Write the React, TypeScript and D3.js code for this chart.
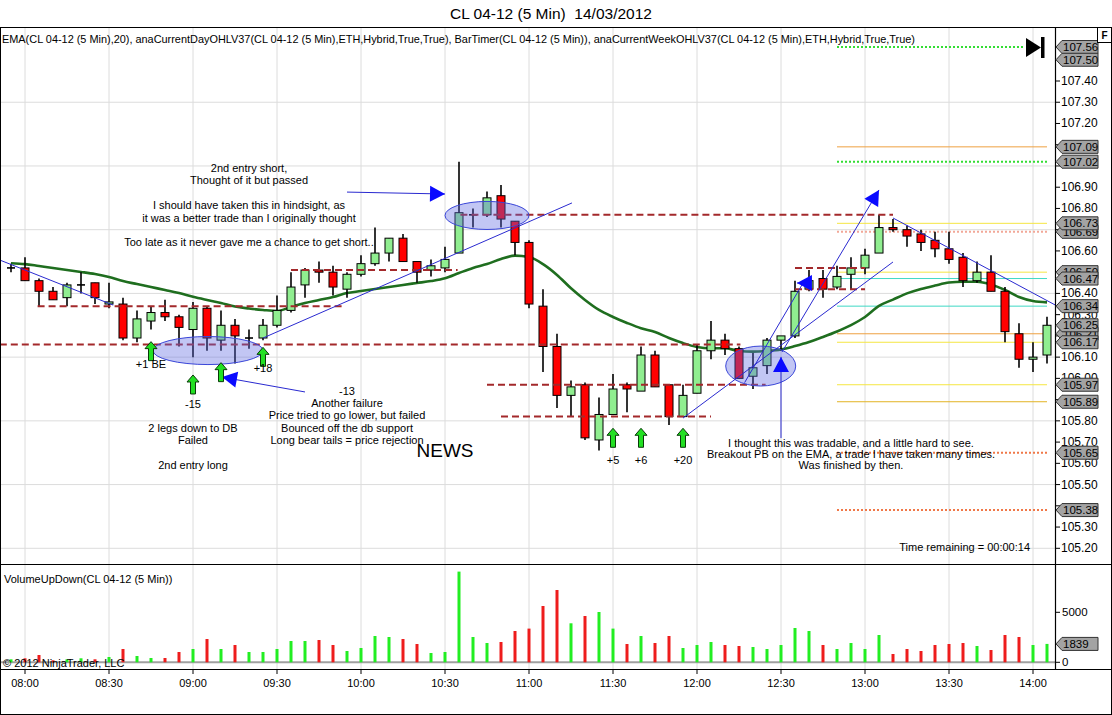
import React from "react";
import * as d3 from "d3";

// ---------- DATA ----------
const opens = [106.52,106.52,106.46,106.41,106.38,106.44,106.45,106.35,106.35,106.19,
106.27,106.31,106.29,106.23,106.33,106.18,106.25,106.19,106.19,106.25,
106.32,106.44,106.51,106.50,106.42,106.49,106.54,106.59,106.66,106.55,
106.51,106.52,106.59,106.77,106.77,106.86,106.74,106.64,106.34,106.15,
105.92,105.97,105.71,105.83,105.97,105.94,106.11,105.97,105.82,105.93,
106.13,106.18,106.14,106.01,106.06,106.18,106.20,106.42,106.47,106.43,
106.49,106.52,106.59,106.71,106.70,106.68,106.65,106.61,106.57,106.46,
106.50,106.41,106.21,106.09,106.11];
const highs = [106.54,106.57,106.47,106.43,106.45,106.50,106.45,106.45,106.38,106.32,
106.34,106.37,106.30,106.36,106.34,106.32,106.28,106.23,106.28,106.39,
106.50,106.52,106.55,106.53,106.50,106.58,106.71,106.66,106.68,106.55,
106.56,106.62,107.02,106.80,106.88,106.91,106.74,106.65,106.42,106.21,
105.99,105.98,105.91,106.02,105.98,106.15,106.13,105.97,105.97,106.16,
106.27,106.21,106.15,106.12,106.19,106.20,106.46,106.51,106.51,106.53,
106.57,106.61,106.77,106.75,106.72,106.70,106.69,106.69,106.59,106.55,
106.58,106.43,106.26,106.17,106.29];
const lows = [106.50,106.46,106.34,106.37,106.34,106.40,106.35,106.33,106.18,106.17,
106.23,106.27,106.15,106.10,106.13,106.13,106.07,106.14,106.18,106.24,
106.31,106.38,106.45,106.39,106.38,106.48,106.53,106.55,106.55,106.45,
106.48,106.50,106.59,106.71,106.76,106.71,106.58,106.33,106.03,105.86,
105.82,105.71,105.66,105.83,105.84,105.94,105.96,105.78,105.82,105.93,
106.09,106.11,106.00,105.95,106.02,106.13,106.19,106.41,106.38,106.42,
106.42,106.49,106.59,106.69,106.62,106.60,106.57,106.54,106.43,106.45,
106.41,106.17,106.05,106.03,106.07];
const closes = [106.52,106.46,106.41,106.37,106.44,106.44,106.38,106.36,106.19,106.28,
106.31,106.29,106.24,106.33,106.19,106.25,106.20,106.19,106.25,106.32,
106.43,106.51,106.50,106.43,106.49,106.54,106.59,106.66,106.55,106.50,
106.53,106.56,106.78,106.77,106.85,106.75,106.64,106.35,106.15,105.92,
105.96,105.72,105.83,105.95,105.95,106.11,105.96,105.82,105.92,106.13,
106.18,106.14,106.00,106.05,106.18,106.20,106.41,106.46,106.42,106.48,
106.52,106.58,106.71,106.70,106.67,106.64,106.61,106.56,106.46,106.50,
106.41,106.22,106.09,106.10,106.25];
const volumes = [300,400,730,200,300,400,300,530,1330,630,
430,430,1030,1330,2330,1330,1730,1030,1030,1330,
2130,2130,2230,1730,1130,1430,2630,2530,2330,1830,
930,1030,9070,2530,1930,2030,3130,3370,5630,7230,
3900,4630,5030,3370,1830,2630,1930,2630,1430,1730,
2030,1730,1630,1530,1330,1730,3430,3130,1730,1330,
1930,1330,2730,830,1330,1130,1730,1830,1930,1630,
1230,2730,2530,1730,1839];
const ema = [106.542,106.538,106.529,106.520,106.510,106.501,106.491,106.477,106.458,106.444,
106.430,106.416,106.402,106.384,106.369,106.355,106.338,106.329,106.322,106.317,
106.336,106.355,106.369,106.383,106.402,106.411,106.421,106.430,106.440,106.449,
106.458,106.471,106.496,106.520,106.538,106.562,106.578,106.571,106.538,106.487,
106.424,106.369,106.322,106.289,106.261,106.236,106.218,106.190,106.166,106.148,
106.142,106.142,106.129,106.126,106.129,106.136,106.152,106.171,106.195,106.221,
106.251,106.289,106.341,106.371,106.400,106.421,106.437,106.451,106.455,106.455,
106.442,106.416,106.383,106.364,106.358];

const timeLabels = ["08:00","08:30","09:00","09:30","10:00","10:30","11:00","11:30","12:00","12:30","13:00","13:30","14:00"];
const timeBars = [1,7,13,19,25,31,37,43,49,55,61,67,73];

// session levels (current day / week OHLC)
const levelPrices = [107.09,107.02,106.73,106.69,106.50,106.47,106.34,106.21,106.17,105.97,105.89,105.65,105.38];
const levelColors = ["#eea040","#33dd33","#f5e642","#f2a898","#f5e642","#3fd9c4","#3fd9c4","#eea040","#f5e642","#f5e642","#e2b424","#f07848","#f07848"];
const levelDotted = [false,true,false,true,false,false,false,false,false,false,false,true,true];
const weekHigh = 107.56;

const flagPrices = [107.56,107.50,107.09,107.02,106.69,106.73,106.50,106.47,106.34,106.21,106.25,106.17,105.97,105.89,105.65,105.38];
const lastVolume = 1839;

// drawn objects (bar index, price)
const dashedPrices = [106.34,106.16,106.51,106.77,105.97,105.82,106.52,106.42];
const dashedFrom = [1.9,-0.8,20,32.1,34,35,56,56];
const dashedTo = [23.9,52.1,31.9,63,53.9,50,61,61];

const trendLines: [number, number][][] = [
  [[-0.8,106.557],[7.3,106.345]],
  [[18,106.19],[40.07,106.826]],
  [[48,105.813],[63,106.548]],
  [[52.4,105.98],[56.7,106.463]],
  [[63,106.755],[74.6,106.345]],
];
const arrowLines: [number, number][][] = [
  [[24,106.877],[31,106.868]],
  [[21,105.936],[15.07,106.006]],
  [[55.07,106.124],[62,106.887]],
  [[55,105.719],[55,106.101]],
  [[57.14,106.449],[56.14,106.449]],
];
const ellipses = [
  [14.07,106.131,3.93,0.066],
  [34,106.767,3,0.066],
  [53.55,106.058,2.5,0.094],
];
const upArrowBars = [10,13,15,18,43,45,48];
const upArrowTips = [106.173,106.016,106.074,106.146,105.765,105.765,105.765];
const tradeLabels = ["+1 BE","-15","+18","+5","+6","+20"];
const tradeLabelBars = [10,13,18,43,45,48];
const tradeLabelPrices = [106.068,105.879,106.049,105.616,105.616,105.616];

const FONT = "'Liberation Sans', Arial, sans-serif";

function arrowHead(tip: [number, number], from: [number, number], len = 14, half = 7) {
  const dx = tip[0] - from[0], dy = tip[1] - from[1];
  const d = Math.hypot(dx, dy) || 1;
  const ux = dx / d, uy = dy / d;
  const bx = tip[0] - ux * len, by = tip[1] - uy * len;
  const nx = -uy, ny = ux;
  return `M${tip[0]},${tip[1]}L${bx + nx * half},${by + ny * half}L${bx - nx * half},${by - ny * half}Z`;
}

export default function App() {
  const x = d3.scaleLinear().domain([0, 74]).range([11, 1047]);
  const y = d3.scaleLinear().domain([105.2, 107.4]).range([548.3, 81]);
  const yv = d3.scaleLinear().domain([0, 5000]).range([662.3, 612.3]);
  const bw = 8;
  const AX = 1055;

  const emaPath = d3.line<number>().x((_, i) => x(i)).y(d => y(d)).curve(d3.curveMonotoneX)(ema) || "";
  const priceTicks = d3.range(0, 23).map(i => +(105.2 + i * 0.1).toFixed(2));
  const gridPrices = d3.range(0, 8).map(i => +(105.2 + i * 0.3).toFixed(2));
  // tick labels that sit fully behind a price flag are not visible in the original
  const visibleTickLabel = (p: number) => flagPrices.every(f => Math.abs(y(f) - y(p)) > 4.5);

  const flag = (cy: number, label: string, key: string) => (
    <g key={key}>
      <path d={`M${AX + 1},${cy}L${AX + 7},${cy - 6.5}L${AX + 43},${cy - 6.5}L${AX + 43},${cy + 6.5}L${AX + 7},${cy + 6.5}Z`} fill="#a3a3a3" stroke="#333" strokeWidth={1} />
      <text x={AX + 8} y={cy} dominantBaseline="central" fontSize={11.5} fill="#000">{label}</text>
    </g>
  );

  const topText = ["2nd entry short,", "Thought of it but passed", "", "I should have taken this in hindsight, as", "it was a better trade than I originally thought", "", "Too late as it never gave me a chance to get short.."];
  const midText = ["-13", "Another failure", "Price tried to go lower, but failed", "Bounced off the db support", "Long bear tails = price rejection"];
  const leftText = ["2 legs down to DB", "Failed", "", "2nd entry long"];
  const rightText = ["I thought this was tradable, and a little hard to see.", "Breakout PB on the EMA, a trade I have taken many times.", "Was finished by then."];

  return (
    <svg width={1112} height={715} style={{ position: "absolute", left: 0, top: 0, background: "#fff" }} fontFamily={FONT}>
      <rect x={0} y={0} width={1112} height={715} fill="#fff" />
      {/* title */}
      <text x={551} y={13} textAnchor="middle" dominantBaseline="central" fontSize={15.5} fill="#000">{"CL 04-12 (5 Min)\u00a0\u00a014/03/2012"}</text>

      {/* grid */}
      {timeBars.map((b, i) => (
        <line key={"vg" + i} x1={x(b)} x2={x(b)} y1={28} y2={669} stroke="#dcdcdc" strokeWidth={1} />
      ))}
      {gridPrices.map((p, i) => (
        <line key={"hg" + i} x1={0} x2={AX} y1={y(p)} y2={y(p)} stroke="#dcdcdc" strokeWidth={1} />
      ))}

      {/* indicator label */}
      <text x={2} y={39} dominantBaseline="central" fontSize={11} textLength={913} lengthAdjust="spacingAndGlyphs">EMA(CL 04-12 (5 Min),20), anaCurrentDayOHLV37(CL 04-12 (5 Min),ETH,Hybrid,True,True), BarTimer(CL 04-12 (5 Min)), anaCurrentWeekOHLV37(CL 04-12 (5 Min),ETH,Hybrid,True,True)</text>

      {/* session level lines */}
      <line x1={x(59)} x2={x(72.3)} y1={y(weekHigh)} y2={y(weekHigh)} stroke="#33dd33" strokeWidth={2} strokeDasharray="2,2" />
      {levelPrices.map((p, i) => (
        <line key={"lv" + i} x1={x(59)} x2={x(74)} y1={y(p)} y2={y(p)} stroke={levelColors[i]} strokeWidth={levelDotted[i] ? 2 : 1} strokeDasharray={levelDotted[i] ? "2,2" : undefined} />
      ))}

      {/* EMA */}
      <path d={emaPath} fill="none" stroke="#1f6e1f" strokeWidth={2.6} />

      {/* candles */}
      {opens.map((o, i) => {
        const c = closes[i];
        const cx = x(i);
        const top = y(Math.max(o, c));
        const bot = y(Math.min(o, c));
        const doji = Math.abs(o - c) < 0.001;
        const up = c > o;
        return (
          <g key={"c" + i}>
            <line x1={cx} x2={cx} y1={y(highs[i])} y2={y(lows[i])} stroke="#000" strokeWidth={1.6} />
            {doji ? (
              <line x1={cx - bw / 2} x2={cx + bw / 2} y1={top} y2={top} stroke="#000" strokeWidth={1.6} />
            ) : (
              <rect x={cx - bw / 2} y={top} width={bw} height={Math.max(bot - top, 1.5)} fill={up ? "#90ee90" : "#ff0000"} stroke="#000" strokeWidth={1} />
            )}
          </g>
        );
      })}

      {/* dashed drawn levels */}
      {dashedPrices.map((p, i) => (
        <line key={"dl" + i} x1={x(dashedFrom[i])} x2={x(dashedTo[i])} y1={y(p)} y2={y(p)} stroke="#a3292b" strokeWidth={2} strokeDasharray="7,4" />
      ))}

      {/* ellipses */}
      {ellipses.map((e, i) => (
        <ellipse key={"el" + i} cx={x(e[0])} cy={y(e[1])} rx={x(e[2]) - x(0)} ry={y(0) - y(e[3])} fill="rgba(95,105,225,0.38)" stroke="#3a46d8" strokeWidth={1} />
      ))}

      {/* trend lines */}
      {trendLines.map((l, i) => (
        <line key={"tl" + i} x1={x(l[0][0])} y1={y(l[0][1])} x2={x(l[1][0])} y2={y(l[1][1])} stroke="#2a2ad0" strokeWidth={1} />
      ))}
      {arrowLines.map((l, i) => {
        const a: [number, number] = [x(l[0][0]), y(l[0][1])];
        const b: [number, number] = [x(l[1][0]), y(l[1][1])];
        return (
          <g key={"al" + i}>
            <line x1={a[0]} y1={a[1]} x2={b[0]} y2={b[1]} stroke="#2a2ad0" strokeWidth={1} />
            <path d={arrowHead(b, a, 15, 8)} fill="#0a0aff" />
          </g>
        );
      })}

      {/* green up arrows */}
      {upArrowBars.map((b, i) => {
        const cx = x(b), ty = y(upArrowTips[i]);
        return (
          <path key={"ua" + i} d={`M${cx},${ty}L${cx + 6},${ty + 7}L${cx + 2.5},${ty + 7}L${cx + 2.5},${ty + 19}L${cx - 2.5},${ty + 19}L${cx - 2.5},${ty + 7}L${cx - 6},${ty + 7}Z`} fill="#22e022" stroke="#0a3a0a" strokeWidth={1} />
        );
      })}
      {tradeLabels.map((t, i) => (
        <text key={"tr" + i} x={x(tradeLabelBars[i])} y={y(tradeLabelPrices[i])} textAnchor="middle" dominantBaseline="central" fontSize={11}>{t}</text>
      ))}

      {/* annotations */}
      {topText.map((t, i) => (
        <text key={"tt" + i} x={249} y={168 + i * 12.4} textAnchor="middle" dominantBaseline="central" fontSize={11}>{t}</text>
      ))}
      {midText.map((t, i) => (
        <text key={"mt" + i} x={347} y={390.5 + i * 12.4} textAnchor="middle" dominantBaseline="central" fontSize={11}>{t}</text>
      ))}
      {leftText.map((t, i) => (
        <text key={"lt" + i} x={193} y={428 + i * 12.4} textAnchor="middle" dominantBaseline="central" fontSize={11}>{t}</text>
      ))}
      {rightText.map((t, i) => (
        <text key={"rt" + i} x={851} y={443 + i * 11.2} textAnchor="middle" dominantBaseline="central" fontSize={11}>{t}</text>
      ))}
      <text x={445} y={450} textAnchor="middle" dominantBaseline="central" fontSize={19}>NEWS</text>
      <text x={1030} y={546.5} textAnchor="end" dominantBaseline="central" fontSize={11}>Time remaining = 00:00:14</text>

      {/* bar timer icon */}
      <path d="M1026,38L1041,47.5L1026,57Z" fill="#000" />
      <rect x={1041} y={37} width={3.5} height={21} fill="#000" />

      {/* volume panel */}
      <text x={4} y={579} dominantBaseline="central" fontSize={11}>VolumeUpDown(CL 04-12 (5 Min))</text>
      <line x1={0} x2={AX} y1={yv(0)} y2={yv(0)} stroke="#a0a0a0" strokeWidth={2} />
      {volumes.map((v, i) => (
        <rect key={"v" + i} x={x(i) - 1.5} y={yv(v)} width={3} height={yv(0) - yv(v)} fill={closes[i] >= opens[i] ? "#22ee22" : "#ee1c1c"} />
      ))}
      <text x={3} y={663} dominantBaseline="central" fontSize={11}>© 2012 NinjaTrader, LLC</text>

      {/* frame */}
      <line x1={0} x2={1112} y1={27.5} y2={27.5} stroke="#000" strokeWidth={1.2} />
      <line x1={0} x2={1112} y1={564.5} y2={564.5} stroke="#000" strokeWidth={1} />
      <line x1={0} x2={1112} y1={669.5} y2={669.5} stroke="#000" strokeWidth={1.2} />
      <line x1={0.5} x2={0.5} y1={27} y2={715} stroke="#000" strokeWidth={1} />
      <line x1={1111.5} x2={1111.5} y1={27} y2={715} stroke="#000" strokeWidth={1} />
      <line x1={0} x2={1112} y1={714.5} y2={714.5} stroke="#000" strokeWidth={1} />
      <line x1={AX + 0.5} x2={AX + 0.5} y1={27} y2={670} stroke="#000" strokeWidth={1.2} />

      {/* price axis */}
      {priceTicks.map((p, i) => (
        <g key={"pt" + i}>
          <line x1={AX} x2={AX + 5} y1={y(p)} y2={y(p)} stroke="#000" strokeWidth={1} />
          {visibleTickLabel(p) && (
            <text x={AX + 6} y={y(p)} dominantBaseline="central" fontSize={12}>{p.toFixed(2)}</text>
          )}
        </g>
      ))}
      {flagPrices.map((p, i) => flag(y(p), p.toFixed(2), "f" + i))}

      {/* volume axis */}
      {[0, 5000].map((v, i) => (
        <g key={"va" + i}>
          <line x1={AX} x2={AX + 5} y1={yv(v)} y2={yv(v)} stroke="#000" strokeWidth={1} />
          <text x={AX + 7} y={yv(v)} dominantBaseline="central" fontSize={11.5}>{v}</text>
        </g>
      ))}
      {flag(yv(lastVolume), String(lastVolume), "fv")}

      {/* F box */}
      <rect x={1097.5} y={27.5} width={14} height={15} fill="#fff" stroke="#000" strokeWidth={1} />
      <text x={1104.5} y={35} textAnchor="middle" dominantBaseline="central" fontSize={10} fontWeight="bold">F</text>

      {/* time axis */}
      {timeBars.map((b, i) => (
        <g key={"ta" + i}>
          <line x1={x(b)} x2={x(b)} y1={670} y2={674} stroke="#000" strokeWidth={1} />
          <text x={x(b)} y={683} textAnchor="middle" dominantBaseline="central" fontSize={11}>{timeLabels[i]}</text>
        </g>
      ))}
    </svg>
  );
}
